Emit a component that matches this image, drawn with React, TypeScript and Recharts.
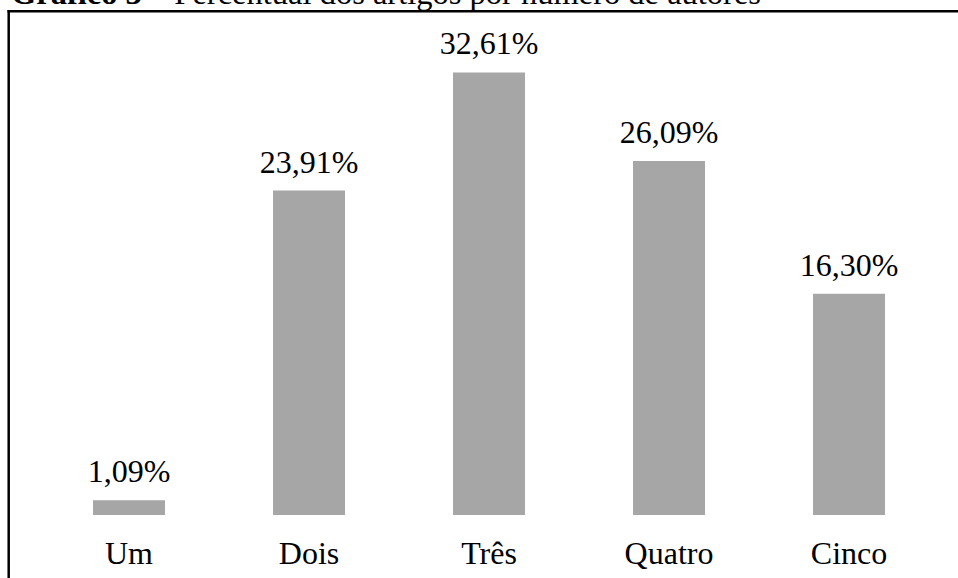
import { BarChart, Bar, XAxis, YAxis, LabelList } from "recharts";

const categories = ["Um", "Dois", "Três", "Quatro", "Cinco"];
const percentages = [1.09, 23.91, 32.61, 26.09, 16.3];

const data = categories.map((name, i) => ({ name, value: percentages[i] }));

const FONT = "'Liberation Serif', 'Times New Roman', serif";

const fmt = (v: number) => v.toFixed(2).replace(".", ",") + "%";

function CategoryTick(props: any) {
  const { x, y, payload } = props;
  return (
    <text x={x} y={y + 49} textAnchor="middle" fontFamily={FONT} fontSize={32} fill="#000">
      {payload.value}
    </text>
  );
}

function ValueLabel(props: any) {
  const { x, y, width, value } = props;
  return (
    <text x={x + width / 2} y={y - 18} textAnchor="middle" fontFamily={FONT} fontSize={32} fill="#000">
      {fmt(value)}
    </text>
  );
}

export default function App() {
  return (
    <div style={{ position: "absolute", left: 0, top: 0, width: 958, height: 578, background: "#fff", overflow: "hidden" }}>
      <BarChart width={958} height={578} data={data} margin={{ top: 40, right: 19, bottom: 0, left: 39 }}>
        <XAxis
          dataKey="name"
          height={63}
          axisLine={false}
          tickLine={false}
          tickSize={0}
          tickMargin={0}
          interval={0}
          tick={<CategoryTick />}
        />
        <YAxis hide domain={[0, 35]} />
        <Bar dataKey="value" fill="#a6a6a6" barSize={72} isAnimationActive={false}>
          <LabelList dataKey="value" content={<ValueLabel />} />
        </Bar>
      </BarChart>
      <svg width={958} height={578} style={{ position: "absolute", left: 0, top: 0, pointerEvents: "none" }}>
        <text x={11} y={4} fontFamily={FONT} fontSize={32.5} fill="#000">
          <tspan fontWeight="bold">Gráfico 3</tspan>
          <tspan> – Percentual dos artigos por número de autores</tspan>
        </text>
        <line x1={7.5} y1={11.2} x2={958} y2={11.2} stroke="#000" strokeWidth={2.4} />
        <line x1={8.7} y1={10} x2={8.7} y2={578} stroke="#000" strokeWidth={2.5} />
      </svg>
    </div>
  );
}
